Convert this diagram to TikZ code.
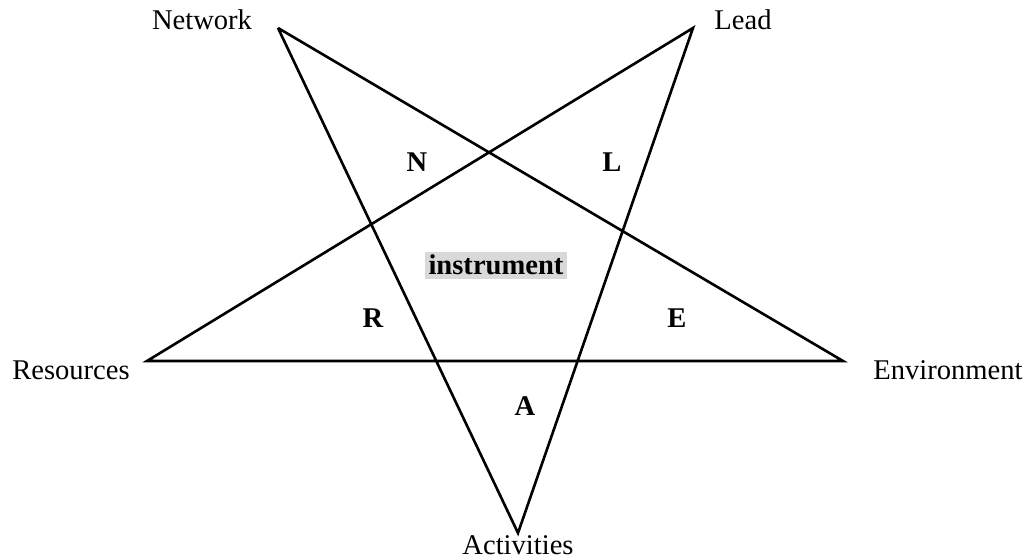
\documentclass[tikz,border=0pt]{standalone}
\usepackage{fontspec}
\setmainfont{Liberation Serif}
\begin{document}
\begin{tikzpicture}[x=0.42pt, y=-0.42pt, font=\fontsize{12}{14}\selectfont,
    corner/.style={anchor=base},
    letter/.style={anchor=base, font=\fontsize{12}{14}\selectfont\bfseries}]
  \useasboundingbox (0,0) rectangle (1032,558);
  % star points
  \coordinate (nw) at (278,28);
  \coordinate (ld) at (693,28);
  \coordinate (rs) at (147,361);
  \coordinate (en) at (843,361);
  \coordinate (ac) at (518,533);
  \draw[line width=1.1] (nw) -- (ac) -- (ld) -- (rs) -- (en) -- (nw);
  \node[corner] (nwlab) at (202,30) {Network};
  \node[corner] (ldlab) at (743,30) {Lead};
  \node[corner] (rslab) at (71,380) {Resources};
  \node[corner] (enlab) at (948,380) {Environment};
  \node[corner] (aclab) at (518,555) {Activities};
  \foreach \x/\y/\t in {417/172/N, 612/172/L, 373/328/R, 677/328/E, 525/416/A}
    \node[letter] (let\t) at (\x,\y) {\t};
  \node[letter, fill=black!15, inner sep=1.5pt] (instr) at (496,275) {instrument};
\end{tikzpicture}
\end{document}
